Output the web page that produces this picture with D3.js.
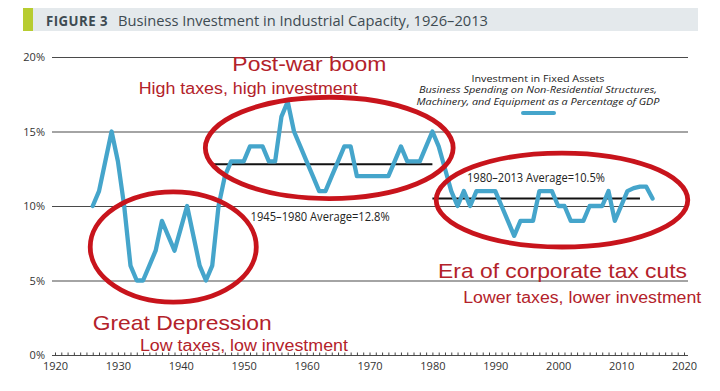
<!DOCTYPE html>
<html>
<head>
<meta charset="utf-8">
<script src="https://cdn.jsdelivr.net/npm/d3@7"></script>
<style>
  html, body { margin: 0; padding: 0; background: #fff; }
  svg { display: block; }
</style>
</head>
<body>
<svg id="chart" width="720" height="391"></svg>
<script>
// ---------- DATA ----------
const years = d3.range(1926, 2016);
const investment = [
  10, 11, 13, 15, 13, 10, 6, 5, 5, 6,        // 1926-1935
  7, 9, 8, 7, 8.5, 10, 8, 6, 5, 6,           // 1936-1945
  10, 12, 13, 13, 13, 14, 14, 14, 13, 13,    // 1946-1955
  16, 17, 15, 14, 13, 12, 11, 11, 12, 13,    // 1956-1965
  14, 14, 12, 12, 12, 12, 12, 12, 13, 14,    // 1966-1975
  13, 13, 13, 14, 15, 14, 12.5, 11, 10, 11,  // 1976-1985
  10, 11, 11, 11, 11, 10, 9, 8, 9, 9,        // 1986-1995
  9, 11, 11, 11, 10, 10, 9, 9, 9, 10,        // 1996-2005
  10, 10, 11, 9, 10, 11, 11.2, 11.3, 11.3, 10.5 // 2006-2015
];
const yTicks = [0, 5, 10, 15, 20];
const xTickLabels = [1920, 1930, 1940, 1950, 1960, 1970, 1980, 1990, 2000, 2010, 2020];
const averages = [
  { from: 1945, to: 1980, value: 12.8, label: "1945\u20131980 Average=12.8%" },
  { from: 1980, to: 2013, value: 10.5, label: "1980\u20132013 Average=10.5%" }
];
const ellipses = [
  { cx: 1938.8, cy: 7.25, rx: 13.2, ry: 3.7 },
  { cx: 1963.6, cy: 13.9, rx: 19.7, ry: 3.4 },
  { cx: 2000.6, cy: 10.4, rx: 20.0, ry: 3.15 }
];
const notes = [
  { text: "Post-war boom", year: 1948.2, value: 19.05, size: 21, len: 154 },
  { text: "High taxes, high investment", year: 1933.3, value: 17.5, size: 16, len: 219 },
  { text: "Great Depression", year: 1926.0, value: 1.7, size: 21, len: 179 },
  { text: "Low taxes, low investment", year: 1933.5, value: 0.27, size: 16, len: 208 },
  { text: "Era of corporate tax cuts", year: 1980.9, value: 5.2, size: 21, len: 249 },
  { text: "Lower taxes, lower investment", year: 1984.9, value: 3.5, size: 16, len: 238 }
];
const legendLines = [
  { text: "Investment in Fixed Assets", italic: false, len: 133 },
  { text: "Business Spending on Non-Residential Structures,", italic: true, len: 238 },
  { text: "Machinery, and Equipment as a Percentage of GDP", italic: true, len: 243 }
];

// ---------- SCALES ----------
const x = d3.scaleLinear().domain([1920, 2020]).range([55, 684]);
const y = d3.scaleLinear().domain([0, 20]).range([355, 57]);

const svg = d3.select("#chart");
const FONT = "'Open Sans', 'Noto Sans', sans-serif";
const RED_TXT = "#b3222a";
const RED = "#c8141c";
const BLUE = "#45a5cb";

// ---------- TITLE ----------
svg.append("rect").attr("x", 33).attr("y", 8).attr("width", 665).attr("height", 23).attr("fill", "#e4e9ec");
svg.append("rect").attr("x", 23).attr("y", 8).attr("width", 10).attr("height", 23).attr("fill", "#b7cc30");
svg.append("text").attr("x", 46).attr("y", 25.5)
  .attr("font-family", FONT).attr("font-weight", "bold").attr("font-size", 14)
  .attr("fill", "#3e4b52").attr("letter-spacing", 0.5)
  .attr("textLength", 62).attr("lengthAdjust", "spacingAndGlyphs")
  .text("FIGURE 3");
svg.append("text").attr("x", 118).attr("y", 25.5)
  .attr("font-family", FONT).attr("font-size", 15)
  .attr("fill", "#3e4b52")
  .attr("textLength", 370).attr("lengthAdjust", "spacingAndGlyphs")
  .text("Business Investment in Industrial Capacity, 1926\u20132013");

// ---------- GRID ----------
svg.append("g").selectAll("line").data(yTicks).join("line")
  .attr("x1", 52).attr("x2", 688)
  .attr("y1", d => y(d) + 0.5).attr("y2", d => y(d) + 0.5)
  .attr("stroke", "#4a4a4a").attr("stroke-width", 1.2);

// y labels
const yAxis = d3.axisLeft(y).tickValues(yTicks).tickSize(0).tickPadding(7).tickFormat(d => d + "%");
svg.append("g").attr("transform", "translate(52,0)").call(yAxis)
  .call(g => g.select(".domain").remove())
  .selectAll("text").attr("font-family", FONT).attr("font-size", 11).attr("fill", "#333");

// x minor ticks
const xTicks = d3.axisBottom(x).tickValues(d3.range(1920, 2021)).tickSize(-3).tickFormat("");
svg.append("g").attr("transform", "translate(0,355.5)").call(xTicks)
  .call(g => g.select(".domain").remove())
  .selectAll("line").attr("stroke", "#444");
// x labels
const xAxis = d3.axisBottom(x).tickValues(xTickLabels).tickSize(0).tickPadding(7).tickFormat(d3.format("d"));
svg.append("g").attr("transform", "translate(0,355)").call(xAxis)
  .call(g => g.select(".domain").remove())
  .selectAll("text").attr("font-family", FONT).attr("font-size", 11).attr("fill", "#333");

// ---------- AVERAGE LINES ----------
svg.append("g").selectAll("line").data(averages).join("line")
  .attr("x1", d => x(d.from)).attr("x2", d => x(d.to))
  .attr("y1", d => y(d.value)).attr("y2", d => y(d.value))
  .attr("stroke", "#111").attr("stroke-width", 2);
svg.append("text").attr("x", x(1951.1)).attr("y", 221)
  .attr("font-family", FONT).attr("font-size", 12).attr("fill", "#222")
  .attr("textLength", 139).attr("lengthAdjust", "spacingAndGlyphs")
  .text(averages[0].label);
svg.append("text").attr("x", x(1985.5)).attr("y", 182)
  .attr("font-family", FONT).attr("font-size", 12).attr("fill", "#222")
  .attr("textLength", 138).attr("lengthAdjust", "spacingAndGlyphs")
  .text(averages[1].label);

// ---------- LEGEND ----------
svg.append("g").attr("font-family", FONT).attr("fill", "#222").attr("text-anchor", "middle")
  .selectAll("text").data(legendLines).join("text")
  .attr("x", 538).attr("y", (d, i) => 81.5 + i * 11.5)
  .attr("font-size", 9.3)
  .attr("font-style", d => d.italic ? "italic" : "normal")
  .attr("textLength", d => d.len).attr("lengthAdjust", "spacingAndGlyphs")
  .text(d => d.text);
svg.append("line").attr("x1", 523).attr("x2", 554).attr("y1", 113).attr("y2", 113)
  .attr("stroke", BLUE).attr("stroke-width", 4).attr("stroke-linecap", "round");

// ---------- DATA LINE ----------
const line = d3.line().x((d, i) => x(years[i])).y(d => y(d));
svg.append("path").datum(investment)
  .attr("d", line)
  .attr("fill", "none").attr("stroke", BLUE).attr("stroke-width", 4.3)
  .attr("stroke-linejoin", "round").attr("stroke-linecap", "round");

// ---------- ELLIPSES ----------
svg.append("g").selectAll("ellipse").data(ellipses).join("ellipse")
  .attr("cx", d => x(d.cx)).attr("cy", d => y(d.cy))
  .attr("rx", d => x(d.cx + d.rx) - x(d.cx)).attr("ry", d => y(d.cy - d.ry) - y(d.cy))
  .attr("fill", "none").attr("stroke", RED).attr("stroke-width", 4.8);

// ---------- NOTES ----------
svg.append("g").selectAll("text").data(notes).join("text")
  .attr("x", d => x(d.year)).attr("y", d => y(d.value))
  .attr("font-family", "'Liberation Sans', Arial, sans-serif")
  .attr("font-size", d => d.size).attr("fill", RED_TXT)
  .attr("textLength", d => d.len).attr("lengthAdjust", "spacingAndGlyphs")
  .text(d => d.text);
</script>
</body>
</html>
